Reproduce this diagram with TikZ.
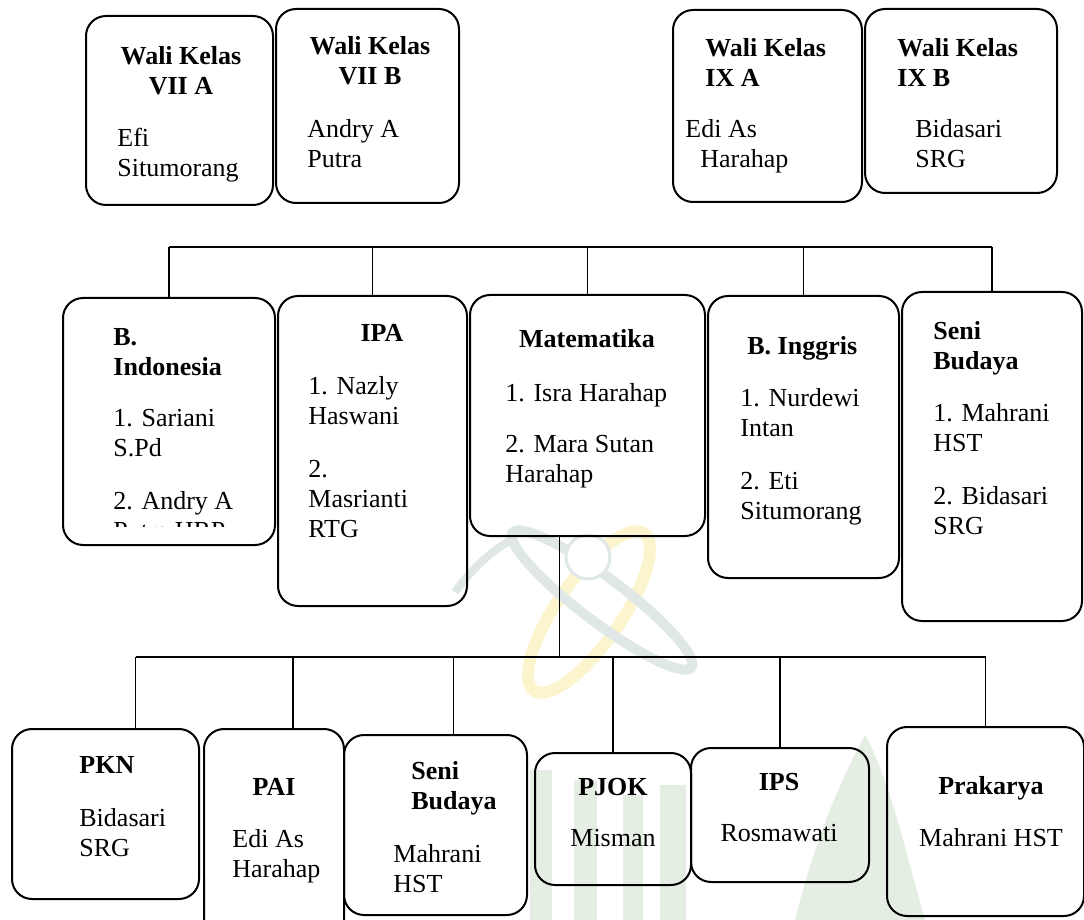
\documentclass[tikz,border=0pt]{standalone}
\usepackage{fontspec}
\setmainfont{Liberation Serif}
\definecolor{wmkuning}{RGB}{251,244,204}
\definecolor{wmtosca}{RGB}{224,231,231}
\definecolor{wmhijau}{RGB}{228,238,226}

\begin{document}
\begin{tikzpicture}[x=0.5pt, y=-0.5pt,
    kotak/.style={draw, rectangle, rounded corners=10pt, line width=1pt, inner sep=0pt},
    judul/.style={inner sep=0pt, align=left, font=\fontsize{13}{15}\selectfont\bfseries},
    isi/.style={inner sep=0pt, align=left, font=\fontsize{13}{15}\selectfont},
    garis/.style={line width=0.6pt}]

    \useasboundingbox (0,0) rectangle (1084,920);

    % logo samar di belakang
    \fill[wmhijau] (530,770) rectangle (552,920);
    \fill[wmhijau] (574,780) rectangle (597,920);
    \fill[wmhijau] (623,795) rectangle (643,920);
    \fill[wmhijau] (660,785) rectangle (686,920);
    \fill[wmhijau] (865,735) .. controls (830,800) and (810,860) .. (795,920) -- (925,920) .. controls (905,850) and (890,780) .. cycle;
    \draw[wmkuning, line width=6pt] (589,612) ellipse [x radius=48pt, y radius=16pt, rotate=55];
    \draw[wmtosca, line width=5pt] (602,600) ellipse [x radius=56pt, y radius=11pt, rotate=-37];
    \draw[wmtosca, line width=4pt] (455,592) .. controls (475,565) and (495,548) .. (515,538);
    \draw[wmtosca, fill=white, line width=1.5pt] (588,557) circle (11pt);

    % wali kelas
    \node[kotak, minimum width=93.5pt, minimum height=94.5pt] (walia) at (179.5,110.5) {};
    \node[kotak, minimum width=91.5pt, minimum height=97pt] (walib) at (367.5,106) {};
    \node[kotak, minimum width=94.5pt, minimum height=96pt] (walic) at (767.5,106) {};
    \node[kotak, minimum width=96pt, minimum height=92pt] (walid) at (961,101) {};

    \node[judul, align=center, anchor=north] (walia-j) at (181,46) {Wali Kelas\\VII A};
    \node[isi, anchor=north west] (walia-i) at (117,128) {Efi\\Situmorang};
    \node[judul, align=center, anchor=north] (walib-j) at (370,36) {Wali Kelas\\VII B};
    \node[isi, anchor=north west] (walib-i) at (307,119) {Andry A\\Putra};
    \node[judul, anchor=north west] (walic-j) at (705,38) {Wali Kelas\\IX A};
    \node[isi, anchor=north west] (walic-i) at (685,119) {Edi As\\\hspace*{7.5pt}Harahap};
    \node[judul, anchor=north west] (walid-j) at (897,38) {Wali Kelas\\IX B};
    \node[isi, anchor=north west] (walid-i) at (915,119) {Bidasari\\SRG};

    % mata pelajaran baris tengah
    \node[kotak, minimum width=106pt, minimum height=123.5pt] (bind) at (169,421.5) {};
    \node[kotak, minimum width=94.5pt, minimum height=155pt] (ipa) at (372.5,451) {};
    \node[kotak, minimum width=117.5pt, minimum height=120.5pt] (mtk) at (587.5,415.5) {};
    \node[kotak, minimum width=95.5pt, minimum height=141pt] (bing) at (803.5,437) {};
    \node[kotak, minimum width=90pt, minimum height=164.5pt] (senia) at (992,456.5) {};

    \node[judul, anchor=north west] (bind-j) at (113,328) {B.\\Indonesia};
    \begin{scope}
        \clip (63,298) rectangle (275,527);
        \node[isi, anchor=north west] (bind-i) at (113,409) {1. Sariani\\S.Pd\\[11.5pt]2. Andry A\\Putra HRP};
    \end{scope}
    \node[judul, anchor=north] (ipa-j) at (382,324) {IPA};
    \node[isi, anchor=north west] (ipa-i) at (308,376) {1. Nazly\\Haswani\\[11.5pt]2.\\Masrianti\\RTG};
    \node[judul, anchor=north] (mtk-j) at (587,329) {Matematika};
    \node[isi, anchor=north west] (mtk-i) at (505,383) {1. Isra Harahap\\[10.5pt]2. Mara Sutan\\Harahap};
    \node[judul, anchor=north west] (bing-j) at (747,336) {B. Inggris};
    \node[isi, anchor=north west] (bing-i) at (740,388) {1. Nurdewi\\Intan\\[11.5pt]2. Eti\\Situmorang};
    \node[judul, anchor=north west] (senia-j) at (933,321) {Seni\\Budaya};
    \node[isi, anchor=north west] (senia-i) at (933,403) {1. Mahrani\\HST\\[11.5pt]2. Bidasari\\SRG};

    % mata pelajaran baris bawah
    \node[kotak, minimum width=93.5pt, minimum height=85pt] (pkn) at (105.5,814) {};
    \node[kotak, minimum width=70pt, minimum height=105.5pt] (pai) at (274,834.5) {};
    \node[kotak, minimum width=91.5pt, minimum height=90pt] (senib) at (435.5,825) {};
    \node[kotak, minimum width=78pt, minimum height=66pt] (pjok) at (613,819) {};
    \node[kotak, minimum width=89pt, minimum height=67pt] (ips) at (780,815) {};
    \node[kotak, minimum width=98.5pt, minimum height=94.5pt] (prak) at (985.5,821.5) {};

    \node[judul, anchor=north west] (pkn-j) at (79,756) {PKN};
    \node[isi, anchor=north west] (pkn-i) at (79,808) {Bidasari\\SRG};
    \node[judul, anchor=north] (pai-j) at (274,778) {PAI};
    \node[isi, anchor=north west] (pai-i) at (232,829) {Edi As\\Harahap};
    \node[judul, anchor=north west] (senib-j) at (411,761) {Seni\\Budaya};
    \node[isi, anchor=north west] (senib-i) at (393,844) {Mahrani\\HST};
    \node[judul, anchor=north] (pjok-j) at (613,778) {PJOK};
    \node[isi, anchor=north] (pjok-i) at (613,829) {Misman};
    \node[judul, anchor=north] (ips-j) at (779,773) {IPS};
    \node[isi, anchor=north] (ips-i) at (779,824) {Rosmawati};
    \node[judul, anchor=north] (prak-j) at (991,776) {Prakarya};
    \node[isi, anchor=north] (prak-i) at (991,828) {Mahrani HST};

    % garis penghubung
    \coordinate (busa) at (0,247);
    \coordinate (busb) at (0,657);
    \foreach \n in {bind,ipa,mtk,bing,senia} {
        \draw[garis] (\n.north) -- (\n.north |- busa);
    }
    \draw[garis] (bind.north |- busa) -- (senia.north |- busa);

    \coordinate (kpkn) at ([xshift=15pt]pkn.north);
    \coordinate (kpai) at ([xshift=9.5pt]pai.north);
    \coordinate (ksenib) at ([xshift=9pt]senib.north);
    \coordinate (kmtk) at ([xshift=-14pt]mtk.south);
    \foreach \n in {kpkn,kpai,ksenib,pjok.north,ips.north,prak.north} {
        \draw[garis] (\n) -- (\n |- busb);
    }
    \draw[garis] (kpkn |- busb) -- (prak.north |- busb);
    \draw[garis] (kmtk) -- (kmtk |- busb);
\end{tikzpicture}
\end{document}
